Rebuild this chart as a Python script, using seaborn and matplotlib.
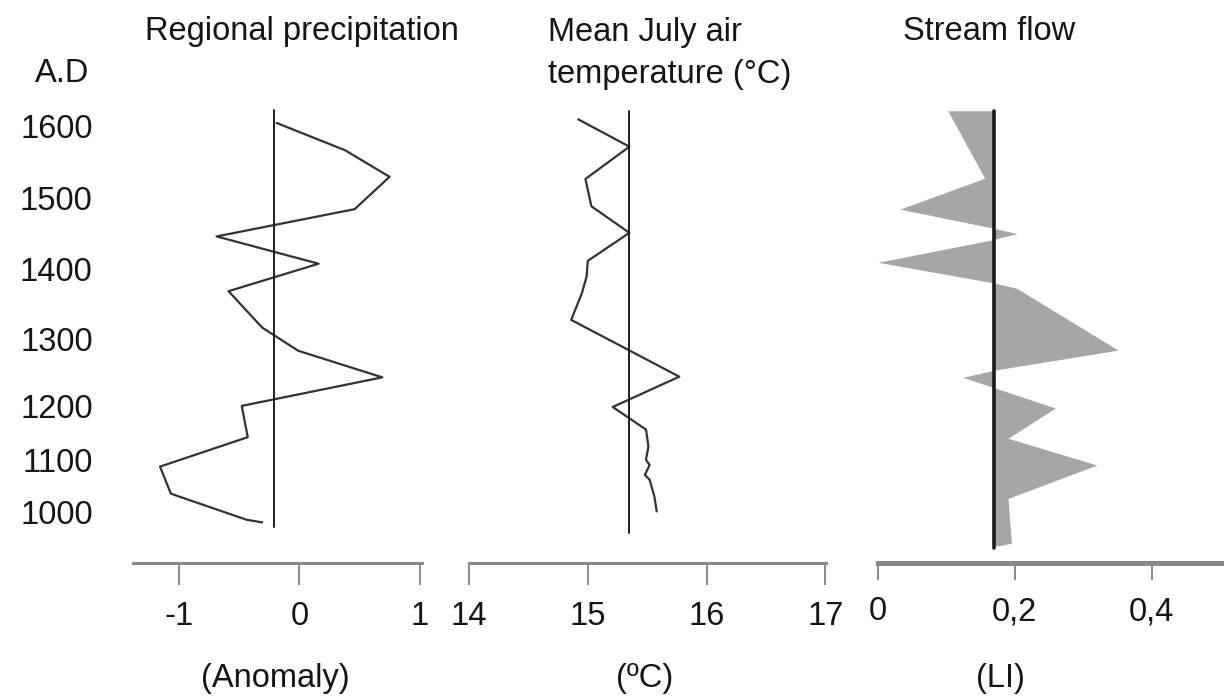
import numpy as np
import matplotlib
matplotlib.use("Agg")
import matplotlib.pyplot as plt
import seaborn as sns

# ---------------- data ----------------
# Regional precipitation anomaly
precip_years = [1604, 1566, 1529, 1484, 1446, 1408, 1369, 1317, 1283, 1243,
                1200, 1142, 1087, 1035, 985, 980]
precip_anom = [-0.19, 0.38, 0.75, 0.46, -0.69, 0.16, -0.59, -0.31, -0.01, 0.69,
               -0.48, -0.43, -1.16, -1.07, -0.44, -0.31]
precip_ref = -0.21
precip_ref_span = [1622, 971]

# Mean July air temperature (°C)
temp_years = [1609, 1571, 1526, 1488, 1451, 1412, 1390, 1366, 1328, 1244,
              1198, 1156, 1125, 1100, 1090, 1071, 1062, 1030, 1001]
temp_vals = [14.92, 15.35, 14.98, 15.03, 15.35, 15.00, 14.99, 14.95, 14.86, 15.77,
             15.21, 15.49, 15.51, 15.49, 15.52, 15.48, 15.52, 15.56, 15.58]
temp_ref = 15.35
temp_ref_span = [1621, 960]

# Stream flow (LI)
flow_years = [1621, 1527, 1484, 1458, 1450, 1441, 1410, 1381, 1373, 1284,
              1254, 1243, 1227, 1196, 1140, 1090, 1026, 940, 935]
flow_vals = [0.102, 0.156, 0.032, 0.166, 0.203, 0.166, 0.000, 0.168, 0.203, 0.351,
             0.171, 0.124, 0.171, 0.259, 0.190, 0.320, 0.190, 0.195, 0.176]
flow_ref = 0.169
flow_ref_span = [1621, 931]

# axis ticks / labels
year_ticks = [1000, 1100, 1200, 1300, 1400, 1500, 1600]
year_tick_offsets = [0.0, 52.1, 106.0, 172.4, 242.4, 314.2, 386.0]  # uneven spacing of the time axis
precip_ticks = [-1, 0, 1]
precip_ticklabels = ["-1", "0", "1"]
temp_ticks = [14, 15, 16, 17]
temp_ticklabels = ["14", "15", "16", "17"]
flow_ticks = [0, 0.2, 0.4]
flow_ticklabels = ["0", "0,2", "0,4"]

titles = ["Regional precipitation", "Mean July air\ntemperature (\u00b0C)", "Stream flow"]
units = ["(Anomaly)", "(\u00baC)", "(LI)"]


# ---------------- uneven time scale ----------------
def _lin(x, xp, fp):
    x = np.asarray(x, dtype=float)
    out = np.interp(x, xp, fp)
    s0 = (fp[1] - fp[0]) / (xp[1] - xp[0])
    s1 = (fp[-1] - fp[-2]) / (xp[-1] - xp[-2])
    out = np.where(x < xp[0], fp[0] + (x - xp[0]) * s0, out)
    out = np.where(x > xp[-1], fp[-1] + (x - xp[-1]) * s1, out)
    return out


def fwd(y):
    return _lin(y, year_ticks, year_tick_offsets)


def inv(p):
    return _lin(p, year_tick_offsets, year_ticks)


# ---------------- figure ----------------
sns.set_theme(style="white")
plt.rcParams["font.family"] = ["Liberation Sans", "DejaVu Sans"]
plt.rcParams["axes.grid"] = False

W, H = 1224, 697
fig = plt.figure(figsize=(W / 100, H / 100), dpi=100)

bot = (H - 563) / H
hgt = 458 / H
ax1 = fig.add_axes([133 / W, bot, 289 / W, hgt])
ax2 = fig.add_axes([469 / W, bot, 357 / W, hgt])
ax3 = fig.add_axes([878 / W, bot, 346 / W, hgt])

FS = 23.5
TXT = "#151515"
LINE = "#333333"
AXC = "#8a8a8a"

for ax in (ax1, ax2, ax3):
    ax.set_yscale("function", functions=(fwd, inv))
    ax.set_ylim(902, 1629)
    for s in ("left", "top", "right"):
        ax.spines[s].set_visible(False)
    ax.spines["bottom"].set_color(AXC)
    ax.spines["bottom"].set_linewidth(2.2)
    ax.tick_params(axis="x", bottom=True, direction="out", length=15.5, width=1.4,
                   color=AXC, pad=12, labelsize=FS, labelcolor=TXT)
    ax.set_xlabel("")
    ax.set_ylabel("")
    ax.patch.set_alpha(0)

# panel 1: precipitation
sns.lineplot(x=precip_anom, y=precip_years, sort=False, estimator=None,
             color=LINE, lw=1.6, ax=ax1)
sns.lineplot(x=[precip_ref, precip_ref], y=precip_ref_span, sort=False, estimator=None,
             color="#1e1e1e", lw=1.4, ax=ax1)
ax1.set_xlim(-1.385, 1.02)
ax1.set_xticks(precip_ticks)
ax1.set_xticklabels(precip_ticklabels)
ax1.set_yticks(year_ticks)
ax1.set_yticklabels([str(y) for y in year_ticks])
ax1.tick_params(axis="y", left=False, length=0, pad=29, labelsize=FS, labelcolor=TXT)

# panel 2: temperature
sns.lineplot(x=temp_vals, y=temp_years, sort=False, estimator=None,
             color=LINE, lw=1.6, ax=ax2)
sns.lineplot(x=[temp_ref, temp_ref], y=temp_ref_span, sort=False, estimator=None,
             color="#1e1e1e", lw=1.4, ax=ax2)
ax2.set_xlim(14, 17.005)
ax2.set_xticks(temp_ticks)
ax2.set_xticklabels(temp_ticklabels)
ax2.set_yticks([])

# panel 3: stream flow
ax3.fill_betweenx(flow_years, flow_ref, flow_vals, color="#a6a6a6", lw=0)
sns.lineplot(x=[flow_ref, flow_ref], y=flow_ref_span, sort=False, estimator=None,
             color="#1a1a1a", lw=2.6, ax=ax3)
ax3.set_xlim(0, 0.5058)
ax3.set_xticks(flow_ticks)
ax3.set_xticklabels(flow_ticklabels)
ax3.set_yticks([])
ax3.spines["bottom"].set_linewidth(3.6)
ax3.tick_params(axis="x", length=12)

for ax in (ax1, ax2, ax3):
    ax.set_ylim(902, 1629)
    if ax.get_legend():
        ax.get_legend().remove()

# titles and unit labels
fig.text(145 / W, 1 - 40 / H, titles[0], fontsize=FS, color=TXT, ha="left", va="baseline")
fig.text(548 / W, 1 - 17 / H, titles[1], fontsize=FS, color=TXT, ha="left", va="top",
         linespacing=1.45)
fig.text(903 / W, 1 - 40 / H, titles[2], fontsize=FS, color=TXT, ha="left", va="baseline")
fig.text(62 / W, 1 - 74 / H, "A.D", fontsize=FS, color=TXT, ha="center", va="center")

fig.text(275 / W, 1 - 678 / H, units[0], fontsize=FS, color=TXT, ha="center", va="center")
fig.text(645 / W, 1 - 678 / H, units[1], fontsize=FS, color=TXT, ha="center", va="center")
fig.text(1000 / W, 1 - 678 / H, units[2], fontsize=FS, color=TXT, ha="center", va="center")

fig.savefig("out.png", dpi=100, facecolor="white")
